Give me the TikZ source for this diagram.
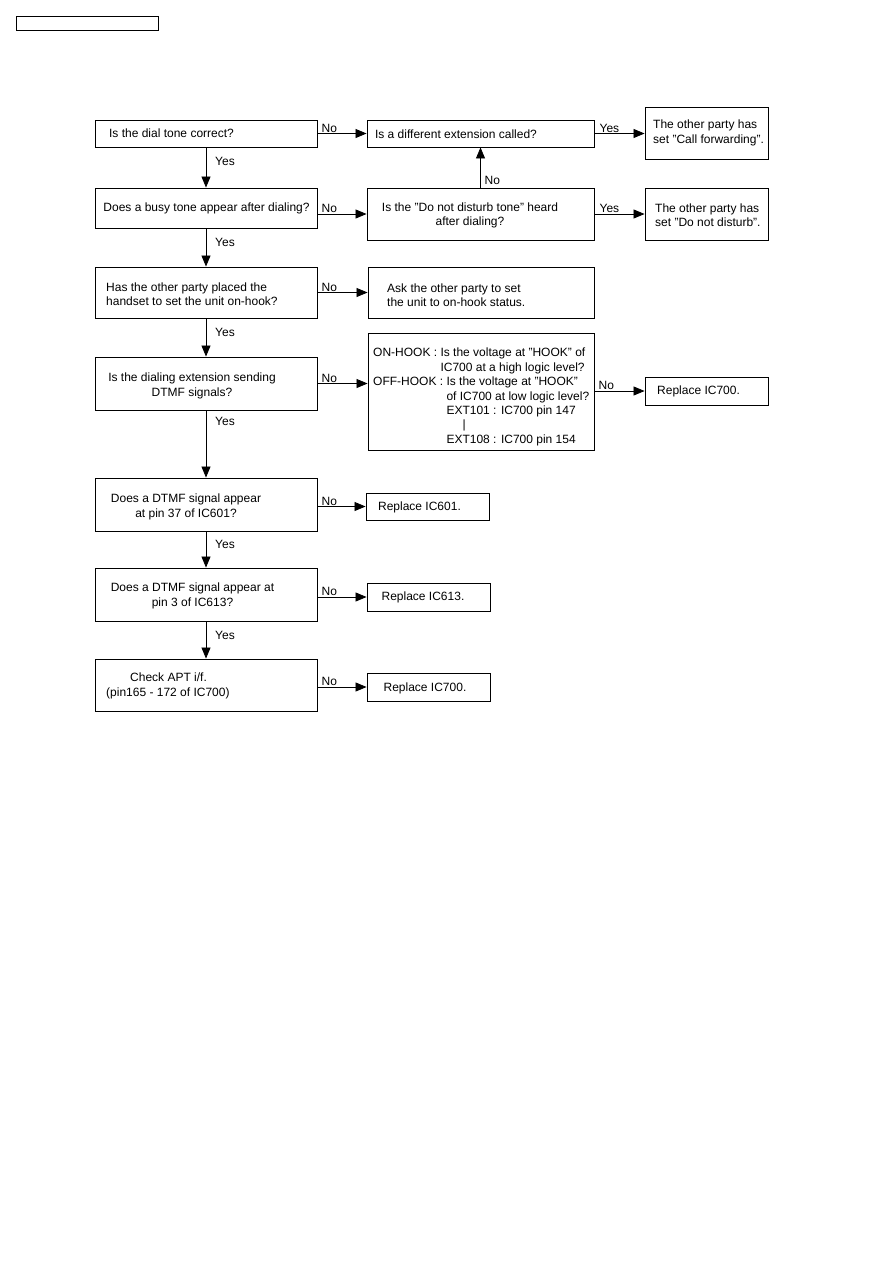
\documentclass[tikz,border=0pt]{standalone}
\usepackage{fontspec}
\setmainfont{Liberation Sans}
\usetikzlibrary{arrows.meta,fit}
\begin{document}
\begin{tikzpicture}[x=1pt,y=-1pt,
  box/.style={draw, line width=0.9pt, inner sep=0pt},
  txt/.style={inner sep=0pt, font=\fontsize{12}{14.4}\selectfont},
  lbl/.style={inner sep=1pt, font=\fontsize{12}{14.4}\selectfont},
  arr/.style={line width=0.8pt, -{Triangle[length=11pt,width=9pt]}}]
\useasboundingbox (0,0) rectangle (893,1263);
% boxes
\node[box, fit={(16,16) (158,30)}] (b0) {};
\node[box, fit={(95,120) (317,147)}] (b1) {};
\node[box, fit={(95,188) (317,228)}] (b2) {};
\node[box, fit={(367,120) (594,147)}] (b3) {};
\node[box, fit={(367,188) (594,240)}] (b4) {};
\node[box, fit={(645,107) (768,159)}] (b5) {};
\node[box, fit={(645,188) (768,240)}] (b6) {};
\node[box, fit={(95,267) (317,318)}] (b7) {};
\node[box, fit={(368,267) (594,318)}] (b8) {};
\node[box, fit={(95,357) (317,410)}] (b9) {};
\node[box, fit={(368,333) (594,450)}] (b10) {};
\node[box, fit={(645,377) (768,405)}] (b11) {};
\node[box, fit={(95,478) (317,531)}] (b12) {};
\node[box, fit={(366,493) (489,520)}] (r1) {};
\node[box, fit={(95,568) (317,621)}] (b13) {};
\node[box, fit={(367,583) (490,611)}] (r2) {};
\node[box, fit={(95,659) (317,711)}] (b14) {};
\node[box, fit={(367,673) (490,701)}] (r3) {};
% texts
\node[txt] (t1) at (171.5,133.5) {Is the dial tone correct?};
\node[txt] (t2) at (206.5,208) {Does a busy tone appear after dialing?};
\node[txt] (t3) at (456,134) {Is a different extension called?};
\node[txt, align=center] (t4) at (470,215.5) {Is the "Do not disturb tone" heard\\after dialing?};
\node[txt, align=left, anchor=west] (t5) at (653,133) {The other party has\\set "Call forwarding".};
\node[txt, align=left, anchor=west] (t6) at (655,215.5) {The other party has\\set "Do not disturb".};
\node[txt, align=left, anchor=west] (t7) at (106,294.5) {Has the other party placed the\\handset to set the unit on-hook?};
\node[txt, align=left, anchor=west] (t8) at (387,295) {Ask the other party to set\\the unit to on-hook status.};
\node[txt, align=center] (t9) at (192,386) {Is the dialing extension sending\\DTMF signals?};
\node[txt, align=left, anchor=west] (t10) at (373,397) {ON-HOOK : Is the voltage at "HOOK" of\\\hphantom{ON-HOOK : }IC700 at a high logic level?\\OFF-HOOK : Is the voltage at "HOOK"\\\hphantom{OFF-HOOK : }of IC700 at low logic level?\\\hphantom{OFF-HOOK : }EXT101 : IC700 pin 147\\\hphantom{OFF-HOOK : EX}|\\\hphantom{OFF-HOOK : }EXT108 : IC700 pin 154};
\node[txt, anchor=west] (t11) at (657,391) {Replace IC700.};
\node[txt, align=center] (t12) at (186,507) {Does a DTMF signal appear\\at pin 37 of IC601?};
\node[txt] (tr1) at (419.5,507) {Replace IC601.};
\node[txt, align=center] (t13) at (192.5,596) {Does a DTMF signal appear at\\pin 3 of IC613?};
\node[txt] (tr2) at (423,597) {Replace IC613.};
\node[txt, align=left, anchor=west] (t14) at (106,686) {\hspace*{24pt}Check APT i/f.\\(pin165 - 172 of IC700)};
\node[txt] (tr3) at (425,688) {Replace IC700.};
% helper coordinates
\coordinate (c2) at (b4.west -| b2.east);
\coordinate (c3) at (b5.west |- b3.east);
\coordinate (c4) at (b6.west |- b4.east);
\coordinate (c7) at (b8.west |- b7.east);
\coordinate (c9) at (b10.west |- b9.east);
\coordinate (c10) at (b10.east |- b11.west);
\coordinate (c12) at (b12.east |- r1.west);
\coordinate (c13) at (b13.east |- r2.west);
\coordinate (c14) at (b14.east |- r3.west);
% connectors
\draw[arr] (b1.east) -- (b3.west);
\draw[arr] (b1) -- (b2);
\draw[arr] (c2) -- (b4.west);
\draw[arr] (b4) -- (b3);
\draw[arr] (b3.east) -- (c3);
\draw[arr] (b4.east) -- (c4);
\draw[arr] (b2) -- (b7);
\draw[arr] (b7.east) -- (c7);
\draw[arr] (b7) -- (b9);
\draw[arr] (b9.east) -- (c9);
\draw[arr] (c10) -- (b11.west);
\draw[arr] (b9) -- (b12);
\draw[arr] (c12) -- (r1.west);
\draw[arr] (b12) -- (b13);
\draw[arr] (c13) -- (r2.west);
\draw[arr] (b13) -- (b14);
\draw[arr] (c14) -- (r3.west);
% labels
\node[lbl, anchor=south west] (n1) at ([xshift=3pt]b1.east) {No};
\node[lbl, anchor=south west] (n2) at ([xshift=3pt]c2) {No};
\node[lbl, anchor=west] (n3) at ([xshift=3pt,yshift=7pt]b4.north) {No};
\node[lbl, anchor=south west] (y3) at ([xshift=4pt]b3.east) {Yes};
\node[lbl, anchor=south west] (y4) at ([xshift=4pt]b4.east) {Yes};
\node[lbl, anchor=south west] (n7) at ([xshift=3pt]b7.east) {No};
\node[lbl, anchor=south west] (n9) at ([xshift=3pt]b9.east) {No};
\node[lbl, anchor=south west] (n10) at ([xshift=3pt]c10) {No};
\node[lbl, anchor=south west] (n12) at ([xshift=3pt]c12) {No};
\node[lbl, anchor=south west] (n13) at ([xshift=3pt]c13) {No};
\node[lbl, anchor=south west] (n14) at ([xshift=3pt]c14) {No};
\node[lbl, anchor=west] (y1) at ([xshift=8pt,yshift=-14pt]b1.south) {Yes};
\node[lbl, anchor=west] (y2) at ([xshift=8pt,yshift=-14pt]b2.south) {Yes};
\node[lbl, anchor=west] (y7) at ([xshift=8pt,yshift=-14pt]b7.south) {Yes};
\node[lbl, anchor=west] (y9) at ([xshift=8pt,yshift=-11pt]b9.south) {Yes};
\node[lbl, anchor=west] (y12) at ([xshift=8pt,yshift=-13pt]b12.south) {Yes};
\node[lbl, anchor=west] (y13) at ([xshift=8pt,yshift=-14pt]b13.south) {Yes};
\end{tikzpicture}
\end{document}
